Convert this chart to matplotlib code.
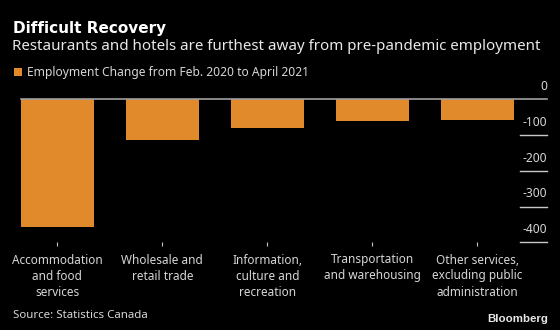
#!/usr/bin/env python

import numpy as np
import matplotlib
matplotlib.use("Agg")
import matplotlib.pyplot as plt
import matplotlib.patches as patches
import matplotlib.transforms as transforms

### employment change, thousands of jobs, Feb. 2020 -> April 2021
categories = [
    "Accommodation\nand food\nservices",
    "Wholesale and\nretail trade",
    "Information,\nculture and\nrecreation",
    "Transportation\nand warehousing",
    "Other services,\nexcluding public\nadministration",
]
change = [-356, -114, -80, -61, -58]
yticks = [0, -100, -200, -300, -400]
yticklabels = ["0", "-100", "-200", "-300", "-400"]

title = "Difficult Recovery"
subtitle = "Restaurants and hotels are furthest away from pre-pandemic employment"
series_name = "Employment Change from Feb. 2020 to April 2021"
source = "Source: Statistics Canada"

bg = "#000000"
barcol = "#E08A2B"
gridcol = "#a0a0a0"
tickcol = "#c8c8c8"
txtcol = "#d6d6d6"

W, H = 560., 330.
def px(v) :
    return v*72./100.

fig = plt.figure(figsize=(W/100., H/100.), dpi=100, facecolor=bg)

### axes box in pixels: x 20.5..547, y 99.3..242.3
axl, axr, axt, axb = 20.5, 547., 99.3, 242.3
ax = fig.add_axes([axl/W, 1-axb/H, (axr-axl)/W, (axb-axt)/H])
ax.set_facecolor(bg)
for s in ax.spines.values() :
    s.set_visible(False)

xpos = np.arange(len(categories))
ax.bar(xpos, change, width=0.695, color=barcol, zorder=2)
ax.set_xlim(-0.35, 4.664)
ax.set_ylim(-400, 0)

### zero line across the full width
ax.axhline(0, color=gridcol, lw=1.2, zorder=3, clip_on=False)

### short tick lines on the right with labels sitting on top
ax.set_yticks([])
trans = transforms.blended_transform_factory(ax.transAxes, ax.transData)
tlx0 = (520.-axl)/(axr-axl)
for v, lab in zip(yticks, yticklabels) :
    if v != 0 :
        ax.plot([tlx0, 1.0], [v, v], color=tickcol, lw=1.0, transform=trans, clip_on=False, zorder=3)
    ax.annotate(lab, xy=(1.0, v), xycoords=trans, xytext=(0, px(12.6)), textcoords="offset points",
                ha="right", va="center", fontsize=px(12), family="Noto Sans", color=txtcol)

### category labels
ax.set_xticks(xpos)
ax.set_xticklabels(categories, family="Noto Sans", fontsize=px(11.8), color=txtcol)
ax.tick_params(axis="x", length=px(4), width=0.8, color=tickcol, pad=px(7.2))
for t in ax.get_xticklabels() :
    t.set_linespacing(1.3)
    t.set_multialignment("center")

### header
fig.text(12.7/W, 1-32.7/H, title, family="DejaVu Sans", weight="bold", fontsize=px(15.2),
         color="white", va="baseline")
fig.text(12./W, 1-50./H, subtitle, family="Noto Sans", fontsize=px(15.1),
         color="#e8e8e8", va="baseline")

### legend
fig.patches.append(patches.Rectangle((14./W, 1-76./H), 8./W, 7.7/H, transform=fig.transFigure,
                                     facecolor=barcol, edgecolor="none"))
fig.text(26.7/W, 1-76./H, series_name, family="Noto Sans", fontsize=px(12.05),
         color=txtcol, va="baseline")

### footer
fig.text(12.7/W, 1-318./H, source, family="Noto Sans", fontsize=px(11.5),
         color=txtcol, va="baseline")
fig.text(548./W, 1-322.5/H, "Bloomberg", family="Liberation Sans", weight="bold",
         fontsize=px(11.5), color="#e6e6e6", ha="right", va="baseline")

fig.savefig("out.png", dpi=100, facecolor=bg)
